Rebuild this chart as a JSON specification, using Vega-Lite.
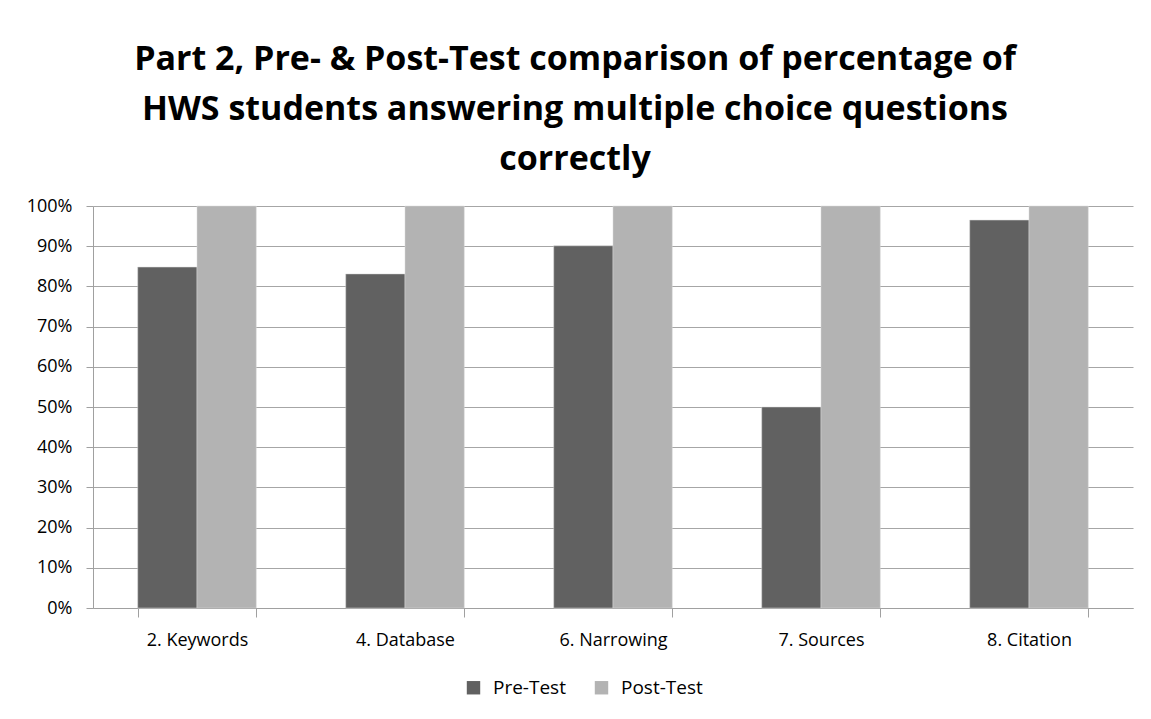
{
  "$schema": "https://vega.github.io/schema/vega-lite/v6.json",
  "autosize": {"type": "none"},
  "width": 1040,
  "height": 402,
  "padding": {"left": 93, "top": 206, "right": 18, "bottom": 111},
  "background": "white",
  "title": {
    "text": ["Part 2, Pre- & Post-Test comparison of percentage of", "HWS students answering multiple choice questions", "correctly"],
    "font": "Open Sans",
    "fontSize": 34,
    "fontWeight": "bold",
    "color": "#000000",
    "anchor": "middle",
    "dx": -38,
    "lineHeight": 50,
    "offset": 20
  },
  "data": {
    "values": [
      {"question": "2. Keywords", "test": "Pre-Test", "pct": 0.848},
      {"question": "2. Keywords", "test": "Post-Test", "pct": 1.0},
      {"question": "4. Database", "test": "Pre-Test", "pct": 0.831},
      {"question": "4. Database", "test": "Post-Test", "pct": 1.0},
      {"question": "6. Narrowing", "test": "Pre-Test", "pct": 0.901},
      {"question": "6. Narrowing", "test": "Post-Test", "pct": 1.0},
      {"question": "7. Sources", "test": "Pre-Test", "pct": 0.5},
      {"question": "7. Sources", "test": "Post-Test", "pct": 1.0},
      {"question": "8. Citation", "test": "Pre-Test", "pct": 0.965},
      {"question": "8. Citation", "test": "Post-Test", "pct": 1.0}
    ]
  },
  "mark": {"type": "bar", "stroke": "#d9d9d9", "strokeWidth": 0.5},
  "encoding": {
    "x": {
      "field": "question",
      "type": "nominal",
      "sort": null,
      "scale": {"paddingInner": 0.43, "paddingOuter": 0.215},
      "axis": {
        "title": null,
        "labelAngle": 0,
        "labelFont": "Open Sans",
        "labelFontSize": 18,
        "labelColor": "#000000",
        "labelPadding": 14,
        "ticks": true,
        "tickBand": "extent",
        "tickSize": 9,
        "tickColor": "#a0a0a0",
        "domainColor": "#a0a0a0",
        "domainWidth": 1
      }
    },
    "xOffset": {"field": "test", "type": "nominal", "sort": ["Pre-Test", "Post-Test"]},
    "y": {
      "field": "pct",
      "type": "quantitative",
      "scale": {"domain": [0, 1], "nice": false},
      "axis": {
        "title": null,
        "format": ".0%",
        "values": [0, 0.1, 0.2, 0.3, 0.4, 0.5, 0.6, 0.7, 0.8, 0.9, 1.0],
        "labelFont": "Open Sans",
        "labelFontSize": 18,
        "labelColor": "#000000",
        "labelPadding": 14,
        "tickSize": 7,
        "tickColor": "#a0a0a0",
        "domainColor": "#a0a0a0",
        "grid": true,
        "gridColor": "#a6a6a6",
        "gridWidth": 1
      }
    },
    "color": {
      "field": "test",
      "type": "nominal",
      "sort": ["Pre-Test", "Post-Test"],
      "scale": {"domain": ["Pre-Test", "Post-Test"], "range": ["#616161", "#b3b3b3"]},
      "legend": {
        "title": null,
        "orient": "none",
        "direction": "horizontal",
        "legendX": 371,
        "legendY": 472,
        "symbolType": "square",
        "symbolSize": 180,
        "symbolStrokeWidth": 0,
        "labelFont": "Open Sans",
        "labelFontSize": 19,
        "labelColor": "#000000",
        "columnPadding": 26,
        "labelOffset": 10
      }
    }
  },
  "config": {
    "view": {"stroke": null}
  }
}
